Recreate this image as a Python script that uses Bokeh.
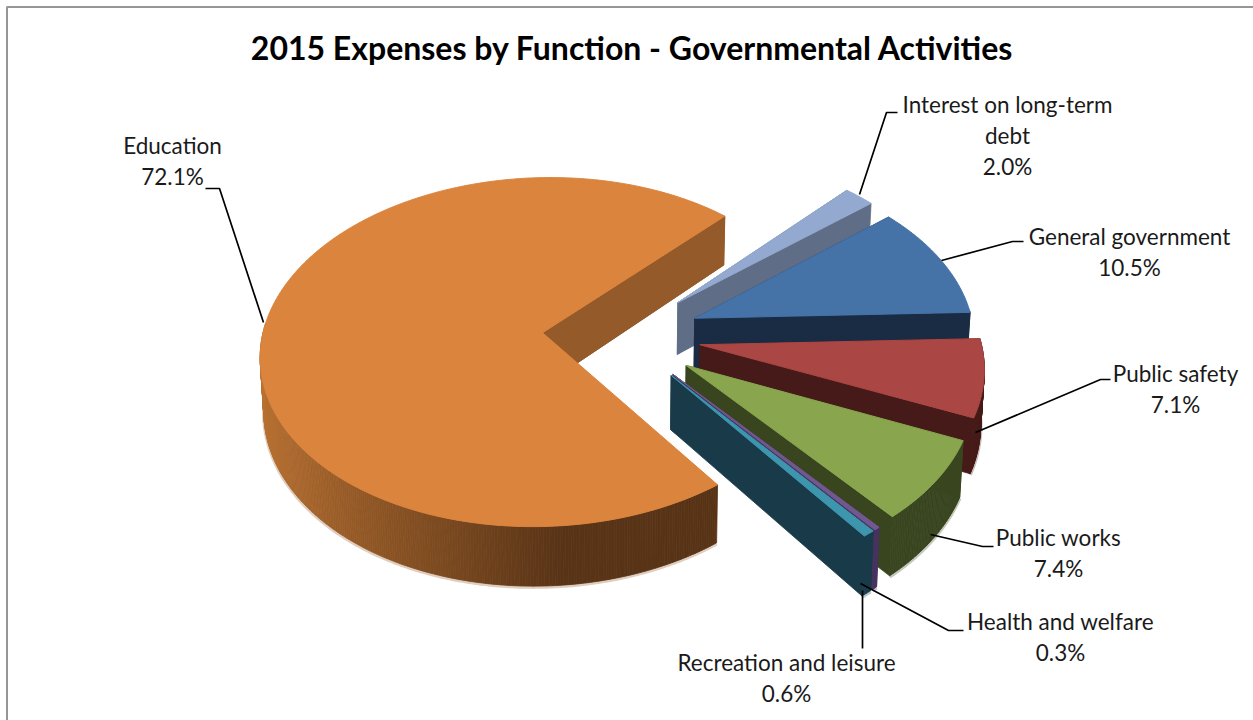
import math
from bokeh.embed import file_html
from bokeh.resources import INLINE
from bokeh.plotting import figure
from bokeh.core.properties import value

TITLE = "2015 Expenses by Function - Governmental Activities"
categories = ["Education", "Interest on long-term debt", "General government", "Public safety",
              "Public works", "Health and welfare", "Recreation and leisure"]
shares = [72.1, 2.0, 10.5, 7.1, 7.4, 0.3, 0.6]
top_colors = ["#DB843D", "#93A9CF", "#4572A7", "#AA4643", "#89A54E", "#71588F", "#3D96AE"]
cut_colors = ["#955A29", "#5F6E86", "#1A2C44", "#451A18", "#38451F", "#46325E", "#193B49"]
label_lines = [["Education"], ["Interest on long-term", "debt"], ["General government"], ["Public safety"],
               ["Public works"], ["Health and welfare"], ["Recreation and leisure"]]

# Pie layout: a projective view of a tilted disc, with every slice pulled out from the centre.
CX, CY = 621.0, 335.0
RX, RY = 280.0, 173.0
TILT = -0.111
EXPLODE = 0.283
DEPTH = 53.0
BOTTOM_SHRINK = 0.99
START_DEG = -47.0
FONT = "Lato"


def project(u, v):
    w = 1 + TILT * v
    return CX + RX * u / w, CY + RY * v / w


def drop(u, v):
    x, y = project(u, v)
    return CX + (x - CX) * BOTTOM_SHRINK, y + DEPTH / (1 + TILT * v)


def mix(a, b, t):
    return "#" + "".join(f"{round(a[i] + (b[i] - a[i]) * t):02x}" for i in range(3))


p = figure(width=1253, height=720, x_range=(0, 1253), y_range=(720, 0), output_backend="svg",
           toolbar_location=None, min_border=0, outline_line_color=None, background_fill_color="white")
p.xaxis.visible = False
p.yaxis.visible = False
p.grid.visible = False

# Chart frame: only its left and top rules fall inside the page.
p.line([6.5, 6.5, 1253], [720, 6.5, 6.5], line_color="#969696", line_width=2)


def wall_patch(pts, color):
    p.patch([q[0] for q in pts], [q[1] for q in pts], fill_color=color, line_color=color, line_width=0.8)


# Slice boundaries in degrees; Education ends at the gap, the others follow it clockwise.
spans = [s / sum(shares) * 360 for s in shares]
bounds = [(START_DEG - spans[0], START_DEG)]
cursor = START_DEG
for sp in spans[1:]:
    bounds.append((cursor, cursor + sp))
    cursor += sp

for i, (a0, a1) in enumerate(bounds):
    mid = math.radians((a0 + a1) / 2)
    ou, ov = EXPLODE * math.cos(mid), EXPLODE * math.sin(mid)
    n = max(int(a1 - a0) * 2, 4)
    angles = [math.radians(a0 + (a1 - a0) * k / n) for k in range(n + 1)]
    rim = [(ou + math.cos(t), ov + math.sin(t)) for t in angles]
    cut = cut_colors[i]

    def cut_face(pt):
        wall_patch([project(ou, ov), project(*pt), drop(*pt), drop(ou, ov)], cut)

    # The gap-side cut face of Education sits behind its rim; small slices get theirs after the rim.
    if i == 0:
        cut_face(rim[-1])

    # Soft fringe along the lower edge of the rim.
    front = [r for r, t in zip(rim, angles) if math.sin(t) > -0.05]
    if front:
        edge = [drop(*r) for r in front]
        p.line([q[0] for q in edge], [q[1] + 1 for q in edge], line_color=cut, line_alpha=0.3, line_width=3.5)

    for k in range(n):
        t = angles[k]
        if math.sin(t) < -0.05:
            continue
        if i == 0:
            # Rim shading of the large slice: lighter at the left, dark toward the front right.
            f = min(1, max(0, (math.cos(t) + 1) / 1.1))
            col = mix((186, 114, 50), (88, 51, 22), f)
        else:
            col = cut
        q0, q1 = rim[k], rim[k + 1]
        wall_patch([project(*q0), project(*q1), drop(*q1), drop(*q0)], col)
    if i > 0:
        cut_face(rim[0])
    cut_face(rim[-1])

    outline = [project(ou, ov)] + [project(*r) for r in rim]
    p.patch([q[0] for q in outline], [q[1] for q in outline], fill_color=top_colors[i],
            line_color=top_colors[i], line_width=1)

# Leader lines from each slice to its label.
leaders = [
    ([205, 219, 263], [188, 188, 322]),
    ([859, 886, 897], [194, 112, 112]),
    ([941, 1012, 1023], [260, 241, 241]),
    ([975, 1100, 1110], [432, 379, 379]),
    ([930, 982, 993], [534, 546, 546]),
    ([860, 948, 963], [583, 630, 630]),
    ([862, 862], [590, 648]),
]
for xs, ys in leaders:
    p.line(xs, ys, line_color="black", line_width=1.7)

# Label block: horizontal centre and vertical middle of the first line of each stack.
label_pos = [(172, 145), (1007, 104), (1129, 236), (1175, 373), (1058, 537), (1060, 621), (786, 662)]
LINE_GAP = 31
for (lx, ly), lines, share in zip(label_pos, label_lines, shares):
    stack = lines + [f"{share:.1f}%"]
    p.text([lx] * len(stack), [ly + LINE_GAP * j for j in range(len(stack))], text=stack,
           text_font=value(FONT), text_font_size="22.5px", text_color="#1a1a1a",
           text_align="center", text_baseline="middle")

p.text([632], [47], text=[TITLE], text_font=value(FONT), text_font_style="bold",
       text_font_size="32px", text_color="black", text_align="center", text_baseline="middle")

open("out.html", "w").write(file_html(p, INLINE))
